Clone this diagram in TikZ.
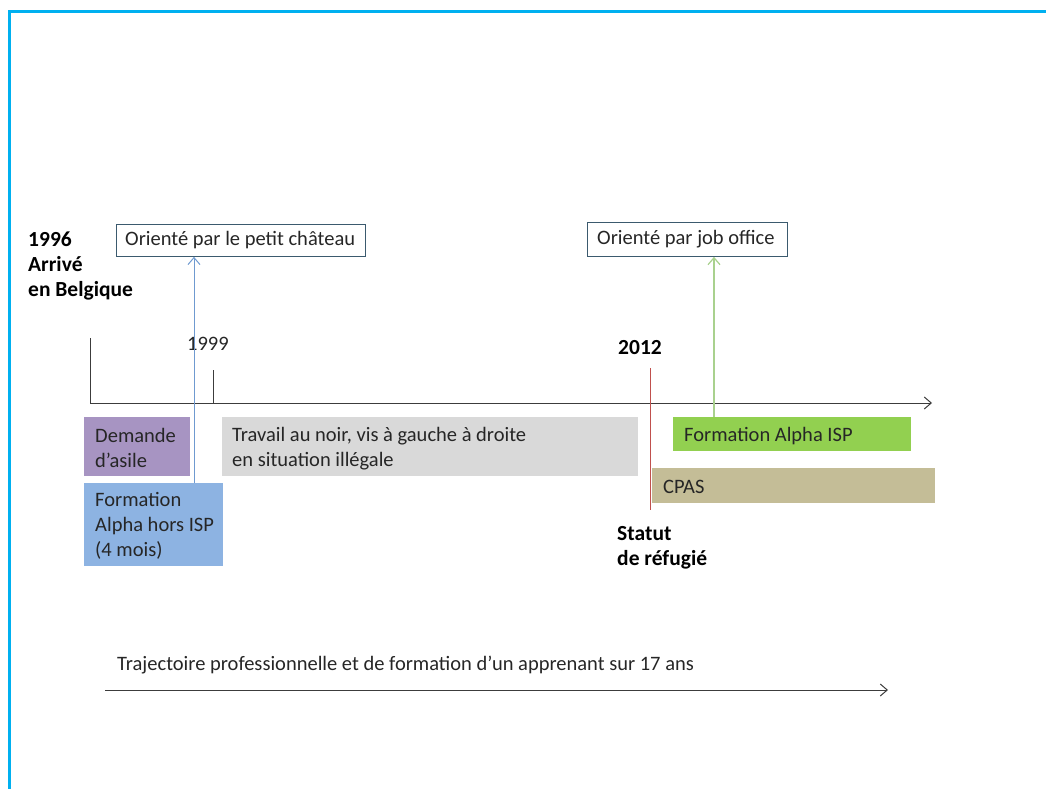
\documentclass[tikz,border=0pt]{standalone}
\usepackage{fontspec}
\setmainfont{Carlito}
\usetikzlibrary{arrows.meta}
\definecolor{frameblue}{HTML}{00B0F0}
\definecolor{txt}{HTML}{262626}
\definecolor{boxline}{HTML}{3B5A6E}
\definecolor{purp}{HTML}{A794C2}
\definecolor{lblue}{HTML}{8DB3E2}
\definecolor{lgrey}{HTML}{D9D9D9}
\definecolor{lgreen}{HTML}{92D050}
\definecolor{tan}{HTML}{C4BD97}
\definecolor{redl}{HTML}{C0504D}
\definecolor{bluel}{HTML}{6F9AD0}
\definecolor{greenl}{HTML}{A9D18E}
\begin{document}
\begin{tikzpicture}[x=1pt,y=-1pt,
  every node/.style={font=\fontsize{20.5}{25}\selectfont, text=txt},
  lbl/.style={inner sep=0, anchor=west, align=left},
  blbl/.style={inner sep=0, anchor=west, align=left, font=\fontsize{21.5}{25}\selectfont\bfseries, text=black},
  obox/.style={draw=boxline, line width=0.8pt, fill=white, inner sep=0, anchor=north west, align=left},
  fbox/.style={inner sep=0, anchor=north west, align=left},
  axis/.style={draw=txt!90, line width=1pt},
  arr/.style={-{Straight Barb[length=7pt,width=12pt]}},
]
\useasboundingbox (0,0) rectangle (1046,789);
% frame
\draw[frameblue, line width=3pt] (9,789) -- (9,11.5) -- (1046,11.5);

% top labels
\node[blbl] (y1996) at (28,266) {1996\\Arrivé\\en Belgique};
\node[obox, minimum width=249pt, minimum height=32pt] (chateau) at (116,224) {};
\node[lbl] (chateautxt) at (125,240) {Orienté par le petit château};
\node[obox, minimum width=200pt, minimum height=34pt] (job) at (587,222) {};
\node[lbl] (jobtxt) at (597,239) {Orienté par job office};

% axis
\coordinate (a0) at (90,403);
\coordinate (a1) at (932,403);
\coordinate (t96) at (90,338);
\coordinate (t99a) at (213,370);
\coordinate (t99b) at (213,403);
\draw[axis] (t96) -- (a0);
\draw[axis,arr] (a0) -- (a1);
\draw[axis] (t99a) -- (t99b);
\node[lbl] (y1999) at (187,344) {1999};
\node[blbl] (y2012) at (618,348) {2012};

% boxes
\node[fbox, fill=purp, minimum width=106pt, minimum height=59pt] (demande) at (84,417) {};
\node[lbl] (demandetxt) at (95,448) {Demande\\d’asile};
\node[fbox, fill=lblue, minimum width=139pt, minimum height=83pt] (alpha1) at (84,483) {};
\node[lbl] (alpha1txt) at (95,526) {Formation\\Alpha hors ISP\\(4 mois)};
\node[fbox, fill=lgrey, minimum width=416pt, minimum height=59pt] (travail) at (222,417) {};
\node[lbl] (travailtxt) at (232,449) {Travail au noir, vis à gauche à droite\\en situation illégale};
\node[fbox, fill=lgreen, minimum width=238pt, minimum height=34pt] (alpha2) at (673,417) {};
\node[lbl] (alpha2txt) at (684,436) {Formation Alpha ISP};
\node[fbox, fill=tan, minimum width=283pt, minimum height=35pt] (cpas) at (652,468) {};
\node[lbl] (cpastxt) at (663,487) {CPAS};

% red line
\coordinate (r0) at (650,368);
\coordinate (r1) at (650,510);
\draw[redl, line width=1pt] (r0) -- (r1);
\node[blbl] (statut) at (617,548) {Statut\\de réfugié};

% arrows up
\coordinate (b0) at (194,483);
\draw[bluel, line width=1pt, arr] (b0) -- (b0 |- chateau.south);
\coordinate (g0) at (714,417);
\draw[greenl, line width=1.2pt, arr] (g0) -- (g0 |- job.south);

% bottom
\node[lbl] (traj) at (117,665) {Trajectoire professionnelle et de formation d’un apprenant sur 17 ans};
\coordinate (c0) at (105,690);
\coordinate (c1) at (888,690);
\draw[axis, arr] (c0) -- (c1);
\end{tikzpicture}
\end{document}
